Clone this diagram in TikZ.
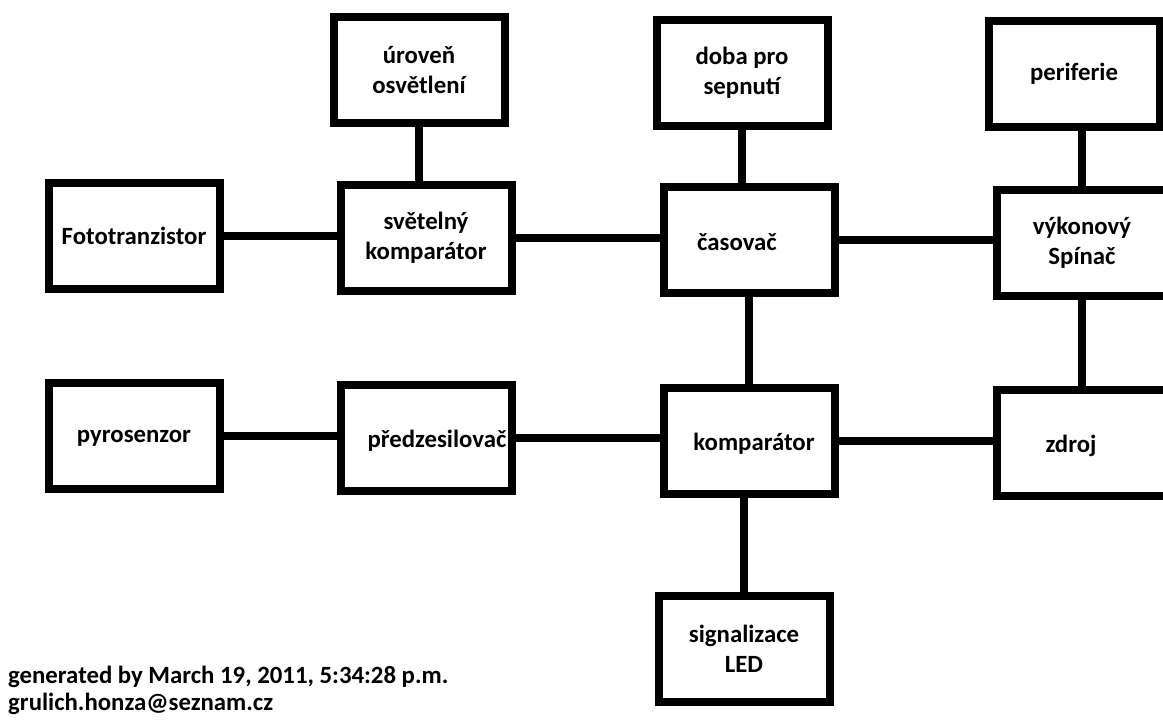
\documentclass[tikz,border=0pt]{standalone}
\usepackage{fontspec}
\setmainfont{Carlito}
\usepackage{tikz}
\usetikzlibrary{positioning}

\begin{document}
\begin{tikzpicture}[
	x=1pt, y=-1pt,
	every node/.style={font=\fontsize{24.8}{30}\selectfont\bfseries},
	box/.style={draw, line width=8pt, minimum width=171pt, minimum height=106pt, align=center, inner sep=2pt},
	link/.style={line width=8pt}
	]
	\useasboundingbox (0,0) rectangle (1163,720);
	
	% horni rada
	\node[box] (Uroven) at (419,70) {úroveň\\ osvětlení};
	\node[box] (Doba) at (742,73) {doba pro\\ sepnutí};
	\node[box] (Periferie) at (1074,74) {periferie};
	
	\node[box] (Foto) at (134,236) {Fototranzistor};
	\node[box] (Svetel) at (426,238) {světelný\\ komparátor};
	\node[box, label={[xshift=-12pt, yshift=-2pt]center:časovač}] (Casovac) at (749,240) {};
	\node[box] (Spinac) at (1082,243) {výkonový\\ Spínač};
	
	% dolni rada
	\node[box, text depth=0pt] (Pyro) at (134,436) {pyrosenzor};
	\node[box, label={[xshift=11pt, yshift=-3pt]center:předzesilovač}] (Predzes) at (426,438) {};
	\node[box, label={[xshift=5pt, yshift=-3pt]center:komparátor}] (Komp) at (749,441) {};
	\node[box, label={[xshift=-11pt, yshift=-3pt]center:zdroj}] (Zdroj) at (1082,443) {};
	\node[box] (Signal) at (744,649) {signalizace\\ LED};
	
	\draw[link] (Foto.east) -- (Foto.east -| Svetel.west);
	\draw[link] (Svetel.east) -- (Svetel.east -| Casovac.west);
	\draw[link] (Casovac.east) -- (Casovac.east -| Spinac.west);
	\draw[link] (Uroven) -- (Uroven |- Svetel.north);
	\draw[link] (Doba) -- (Doba |- Casovac.north);
	\draw[link] (Spinac.north) -- (Spinac.north |- Periferie.south);
	\draw[link] (Spinac) -- (Zdroj);
	\draw[link] (Casovac.south) -- (Casovac.south |- Komp.north);
	
	\draw[link] (Pyro.east) -- (Pyro.east -| Predzes.west);
	\draw[link] (Predzes.east) -- (Predzes.east -| Komp.west);
	\draw[link, shorten >=-7pt] (Komp.east) -- (Komp.east -| Zdroj.west);
	\draw[link] (Signal.north) -- (Signal.north |- Komp.south);
	
	\node[anchor=north west, align=left, font=\fontsize{24.8}{27}\selectfont\bfseries, inner sep=0pt] (Gen) at (8,666) {generated by March 19, 2011, 5:34:28 p.m.\\ grulich.honza@seznam.cz};
	
\end{tikzpicture}
\end{document}
